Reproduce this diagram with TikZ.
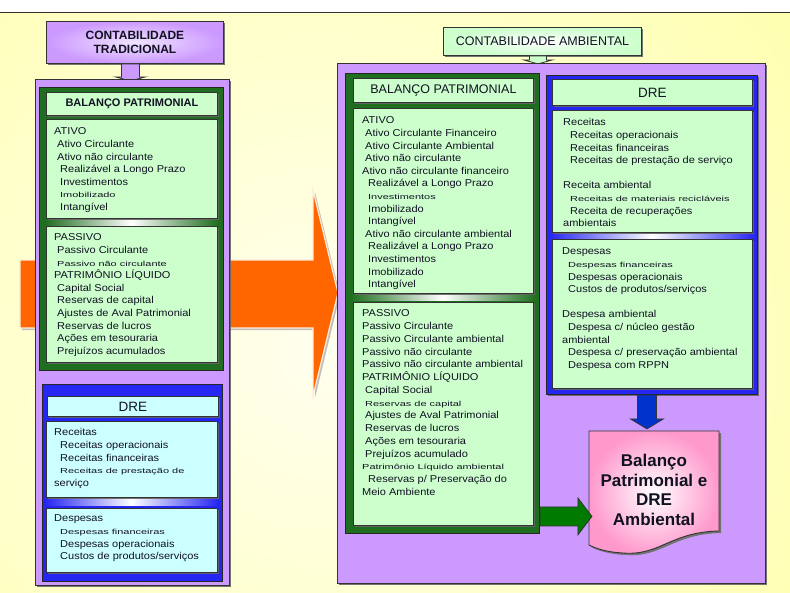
\documentclass[tikz,border=0pt]{standalone}
\usepackage{fontspec}
\setmainfont{Liberation Sans}
\newfontfamily\bodyf[FakeStretch=1.1]{Liberation Sans}
\newfontfamily\smf[FakeStretch=1.5]{Liberation Sans}
\newfontfamily\hdf{Liberation Sans}
\usetikzlibrary{shadows,calc}
\definecolor{lav}{HTML}{CC99FF}
\definecolor{lavl}{HTML}{F0E4FF}
\definecolor{dgreen}{HTML}{1F6E1F}
\definecolor{lgreen}{HTML}{CCFFCC}
\definecolor{lcyan}{HTML}{CCFFFF}
\definecolor{bblue}{HTML}{2626F2}
\definecolor{ablue}{HTML}{0033CC}
\definecolor{agreen}{HTML}{007A00}
\definecolor{orng}{HTML}{FF6600}
\definecolor{ylw}{HTML}{FFFF99}
\definecolor{ylwl}{HTML}{FFFFEE}
\definecolor{pinkd}{HTML}{FF99CC}
\definecolor{txt}{HTML}{111122}
\definecolor{edge}{HTML}{333333}
\newcommand\smline[1]{{\smf\fontsize{7.3}{12.6}\selectfont #1}}
\newcommand\ind[1]{\hspace*{#1pt}}
\begin{document}
\begin{tikzpicture}[x=1pt,y=-1pt,
  box/.style={draw=edge, line width=0.9pt, anchor=north west, inner sep=0pt, rectangle},
  shad/.style={drop shadow={shadow xshift=1.6pt, shadow yshift=-1.6pt, fill=black!60, opacity=0.9}},
  lbox/.style={box, shad, fill=lgreen},
  cbox/.style={box, shad, fill=lcyan},
  txtblock/.style={anchor=north west, inner sep=0pt, align=left, text=txt, font=\bodyf\fontsize{10}{12.6}\selectfont},
  blockarrow/.style={draw=edge, line width=0.8pt}
]
\useasboundingbox (0,0) rectangle (790,592);
% background
\fill[white] (0,0) rectangle (790,592);
\begin{scope}
  \clip (0,12) rectangle (790,592);
  \shade[inner color=ylwl, outer color=ylw] (-480,-450) rectangle (1120,1150);
\end{scope}
\draw[edge, line width=1pt] (0,12) -- (790,12);

% orange arrow
\fill[black!25] (22,262) -- (315,262) -- (315,192) -- (340,295) -- (315,398) -- (315,330) -- (22,330) -- cycle;
\draw[draw=white!85!orange, line width=1.2pt, fill=orng] (20,260) -- (313,260) -- (313,190) -- (338,293) -- (313,396) -- (313,328) -- (20,328) -- cycle;

% ===== LEFT =====
\node[box, shad, inner color=lavl, outer color=lav, minimum width=177, minimum height=42, align=center, text=txt, font=\hdf\bfseries\fontsize{12}{14}\selectfont] (trad) at (46,21) {CONTABILIDADE\\TRADICIONAL};
\draw[blockarrow, fill=lav] ($(trad.south)+(-13.5,0)$) -- ++(0,13) -- ++(-6,0) -- ++(15,4) -- ++(15,-4) -- ++(-6,0) -- ++(0,-13) -- cycle;

\node[box, shad, fill=lav, minimum width=194, minimum height=506] (outerL) at (35,79) {};
\node[box, fill=dgreen, draw=black!85, minimum width=184, minimum height=283] (greenL) at (39,87) {};
\node[lbox, minimum width=171, minimum height=23, text=txt, font=\hdf\bfseries\fontsize{11}{13}\selectfont] (hdrL) at (46,92) {BALANÇO PATRIMONIAL};
\shade[left color=dgreen, right color=dgreen, middle color=white] (45,219) rectangle (218,225);
\node[lbox, minimum width=171, minimum height=99] (ativoL) at (46,119) {};
\node[lbox, minimum width=171, minimum height=136] (passivoL) at (46,226) {};
\node[txtblock] (tAtivoL) at (54,126.6) {\rule{0pt}{8pt}ATIVO\\
\ind{3}Ativo Circulante\\
\ind{3}Ativo não circulante\\
\ind{6}Realizável a Longo Prazo\\
\ind{6}Investimentos\\
\ind{6}\smline{Imobilizado}\\
\ind{6}Intangível};
\node[txtblock] (tPassivoL) at (54,232.6) {\rule{0pt}{8pt}PASSIVO\\
\ind{3}Passivo Circulante\\
\ind{3}\smline{Passivo não circulante}\\
PATRIMÔNIO LÍQUIDO\\
\ind{3}Capital Social\\
\ind{3}Reservas de capital\\
\ind{3}Ajustes de Aval Patrimonial\\
\ind{3}Reservas de lucros\\
\ind{3}Ações em tesouraria\\
\ind{3}Prejuízos acumulados};

\node[box, fill=bblue, draw=black!85, minimum width=180, minimum height=197] (blueL) at (42,384) {};
\node[cbox, minimum width=171, minimum height=20, text=txt, font=\hdf\fontsize{13.5}{15}\selectfont] (dreL) at (47,396) {DRE};
\shade[left color=bblue, right color=bblue, middle color=white] (45,498) rectangle (218,505);
\node[cbox, minimum width=171, minimum height=76] (recL) at (46,421) {};
\node[cbox, minimum width=171, minimum height=64] (despL) at (46,508) {};
\node[txtblock] (tRecL) at (54,427.6) {\rule{0pt}{8pt}Receitas\\
\ind{6}Receitas operacionais\\
\ind{6}Receitas financeiras\\
\ind{6}\smline{Receitas de prestação de}\\
serviço};
\node[txtblock] (tDespL) at (54,513.6) {\rule{0pt}{8pt}Despesas\\
\ind{6}\smline{Despesas financeiras}\\
\ind{6}Despesas operacionais\\
\ind{6}Custos de produtos/serviços};

% ===== RIGHT =====
\node[box, shad, inner color=white, outer color=lgreen, minimum width=198, minimum height=28, text=txt, font=\hdf\fontsize{12.5}{14}\selectfont] (amb) at (443,27) {CONTABILIDADE AMBIENTAL};
\draw[blockarrow, fill=lgreen] ($(amb.south)+(-13,0)$) -- ++(0,4) -- ++(-6,0) -- ++(14.5,4) -- ++(14.5,-4) -- ++(-6,0) -- ++(0,-4) -- cycle;

\node[box, shad, fill=lav, minimum width=428, minimum height=520] (outerR) at (337,63) {};
\node[box, fill=dgreen, draw=black!85, minimum width=194, minimum height=460] (greenR) at (345,73) {};
\node[lbox, minimum width=180, minimum height=24, text=txt, font=\hdf\fontsize{12.5}{14}\selectfont] (hdrR) at (353,78) {BALANÇO PATRIMONIAL};
\shade[left color=dgreen, right color=dgreen, middle color=white] (350,294.5) rectangle (536,300.5);
\node[lbox, minimum width=180, minimum height=185] (ativoR) at (353,108) {};
\node[lbox, minimum width=180, minimum height=223] (passivoR) at (353,302) {};
\node[txtblock] (tAtivoR) at (362,115.6) {\rule{0pt}{8pt}ATIVO\\
\ind{3}Ativo Circulante Financeiro\\
\ind{3}Ativo Circulante Ambiental\\
\ind{3}Ativo não circulante\\
Ativo não circulante financeiro\\
\ind{6}Realizável a Longo Prazo\\
\ind{6}\smline{Investimentos}\\
\ind{6}Imobilizado\\
\ind{6}Intangível\\
\ind{3}Ativo não circulante ambiental\\
\ind{6}Realizável a Longo Prazo\\
\ind{6}Investimentos\\
\ind{6}Imobilizado\\
\ind{6}Intangível};
\node[txtblock, font=\bodyf\fontsize{10}{12.75}\selectfont] (tPassivoR) at (362,308.6) {\rule{0pt}{8pt}PASSIVO\\
Passivo Circulante\\
Passivo Circulante ambiental\\
Passivo não circulante\\
Passivo não circulante ambiental\\
PATRIMÔNIO LÍQUIDO\\
\ind{3}Capital Social\\
\ind{3}\smline{Reservas de capital}\\
\ind{3}Ajustes de Aval Patrimonial\\
\ind{3}Reservas de lucros\\
\ind{3}Ações em tesouraria\\
\ind{3}Prejuízos acumulado\\
\smline{Patrimônio Líquido ambiental}\\
\ind{6}Reservas p/ Preservação do\\
Meio Ambiente};

\node[box, shad, fill=bblue, draw=black!85, minimum width=211, minimum height=319] (blueR) at (546,75) {};
\node[lbox, minimum width=200, minimum height=26, text=txt, font=\hdf\fontsize{13.5}{15}\selectfont] (dreR) at (552,79) {DRE};
\shade[left color=bblue, right color=bblue, middle color=white] (549,233) rectangle (755,238);
\node[lbox, minimum width=200, minimum height=122] (recR) at (552,110) {};
\node[lbox, minimum width=200, minimum height=149] (despR) at (552,239) {};
\node[txtblock] (tRecR) at (563,117.6) {\rule{0pt}{8pt}Receitas\\
\ind{7}Receitas operacionais\\
\ind{7}Receitas financeiras\\
\ind{7}Receitas de prestação de serviço\\[12.6pt]
Receita ambiental\\
\ind{7}\smline{Receitas de materiais recicláveis}\\
\ind{7}Receita de recuperações\\
ambientais};
\node[txtblock] (tDespR) at (562,246.6) {\rule{0pt}{8pt}Despesas\\
\ind{6}\smline{Despesas financeiras}\\
\ind{6}Despesas operacionais\\
\ind{6}Custos de produtos/serviços\\[12.6pt]
Despesa ambiental\\
\ind{6}Despesa c/ núcleo gestão\\
ambiental\\
\ind{6}Despesa c/ preservação ambiental\\
\ind{6}Despesa com RPPN};

% blue arrow down
\draw[blockarrow, fill=ablue] ($(blueR.south)+(-14.5,0)$) -- ++(0,24) -- ++(-7,0) -- ++(16.5,10) -- ++(16.5,-10) -- ++(-7,0) -- ++(0,-24) -- cycle;

% document shape
\fill[black!55] (591,433) -- (721,433) -- (721,533) .. controls (672,534) and (662,558) .. (625,555) .. controls (607,554) and (597,550) .. (591,547) -- cycle;
\path[draw=edge, line width=0.9pt, inner color=white, outer color=pinkd] (589,431) -- (719,431) -- (719,531) .. controls (670,532) and (660,556) .. (623,553) .. controls (605,552) and (595,548) .. (589,545) -- cycle;
\node[align=center, text=txt, font=\hdf\bfseries\fontsize{17}{19.5}\selectfont, inner sep=0pt] (docText) at (654,490) {Balanço\\Patrimonial e\\DRE\\Ambiental};

% green arrow right
\draw[blockarrow, fill=agreen] ($(greenR.south east)+(0,-27)$) -- ++(38,0) -- ++(0,-9) -- ++(14,18.5) -- ++(-14,18.5) -- ++(0,-9) -- ++(-38,0) -- cycle;
\end{tikzpicture}
\end{document}
